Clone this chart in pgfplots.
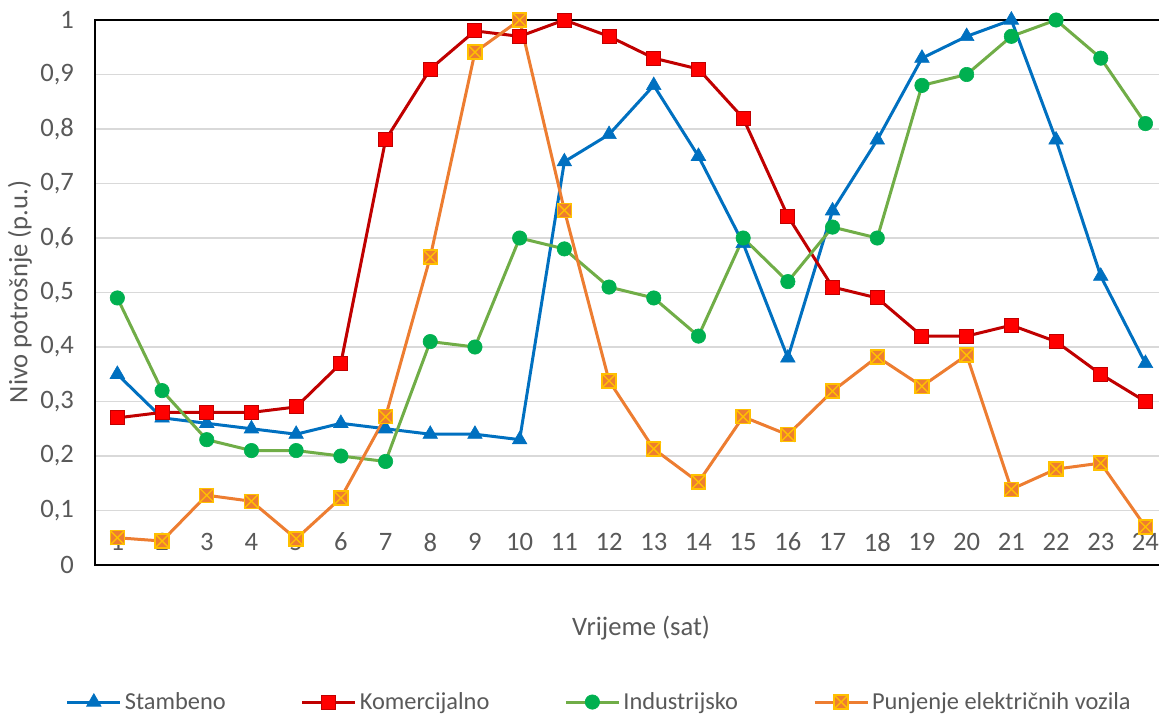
\documentclass[border=0pt]{standalone}
\usepackage{fontspec}
\setmainfont{Carlito}
\usepackage{pgfplots}
\pgfplotsset{compat=1.18}

\definecolor{cblue}{HTML}{0070C0}
\definecolor{credl}{HTML}{C00000}
\definecolor{credf}{HTML}{FF0000}
\definecolor{cgreenl}{HTML}{70AD47}
\definecolor{cgreenm}{HTML}{00B050}
\definecolor{corange}{HTML}{ED7D31}
\definecolor{cgold}{HTML}{FFC000}
\definecolor{txt}{HTML}{595959}
\definecolor{gridc}{HTML}{D9D9D9}

% filled square with a cross (EV charging marker)
\pgfdeclareplotmark{sqx}{%
  \pgfpathrectangle{\pgfpoint{-\pgfplotmarksize}{-\pgfplotmarksize}}{\pgfpoint{2\pgfplotmarksize}{2\pgfplotmarksize}}%
  \pgfusepathqfillstroke
  \pgfpathmoveto{\pgfpoint{-\pgfplotmarksize}{-\pgfplotmarksize}}%
  \pgfpathlineto{\pgfpoint{\pgfplotmarksize}{\pgfplotmarksize}}%
  \pgfpathmoveto{\pgfpoint{-\pgfplotmarksize}{\pgfplotmarksize}}%
  \pgfpathlineto{\pgfpoint{\pgfplotmarksize}{-\pgfplotmarksize}}%
  \pgfusepathqstroke}

\newcommand{\cf}{\fontsize{13.3}{16}\selectfont}
\newcommand{\lf}{\fontsize{12.2}{14.6}\selectfont}

\begin{document}
\begin{tikzpicture}
\useasboundingbox (-47.5pt,-74.5pt) rectangle (532pt,282.5pt);
\begin{axis}[
    at={(0,0)}, anchor=south west,
    scale only axis,
    width=536.4pt, height=272.5pt,
    xmin=0.5, xmax=24.5,
    ymin=0, ymax=1,
    xtick={1,...,24},
    ytick={0,0.1,...,1.0001},
    major tick length=0pt,
    axis line style={black, line width=0.9pt},
    ymajorgrids,
    major grid style={gridc, line width=0.8pt},
    tick label style={font=\cf, text=txt},
    /pgf/number format/assume math mode=true,
    yticklabel style={/pgf/number format/fixed, /pgf/number format/use comma, xshift=-7pt},
    xticklabel style={anchor=center, yshift=11.5pt},
    xlabel={Vrijeme (sat)},
    ylabel={Nivo potrošnje (p.u.)},
    label style={font=\cf, text=txt},
    xlabel style={at={(axis description cs:0.509,-0.1156)}, anchor=center},
    ylabel style={at={(axis description cs:-0.0699,0.501)}, anchor=center, rotate=0},
    legend columns=4,
    legend style={draw=none, fill=none, font=\lf, text=txt,
        at={(axis description cs:0.4705,-0.2514)}, anchor=center,
        /tikz/every even column/.append style={column sep=36pt},
        nodes={inner sep=1.5pt}},
    legend image code/.code={%
        \draw[mark repeat=2,mark phase=2]
        plot coordinates {(0pt,0pt) (13.25pt,0pt) (26.5pt,0pt)};},
    every axis plot/.append style={line width=1.5pt},
]
\addplot[cblue, mark=triangle*, mark size=4.2pt, mark options={solid, line width=0.3pt, fill=cblue, draw=cblue}]
coordinates {(1,0.35) (2,0.27) (3,0.26) (4,0.25) (5,0.24) (6,0.26) (7,0.25) (8,0.24)
(9,0.24) (10,0.23) (11,0.74) (12,0.79) (13,0.88) (14,0.75) (15,0.59) (16,0.38)
(17,0.65) (18,0.78) (19,0.93) (20,0.97) (21,1.0) (22,0.78) (23,0.53) (24,0.37)};
\addlegendentry{Stambeno}

\addplot[credl, mark=square*, mark size=3.5pt, mark options={solid, line width=0.5pt, fill=credf, draw=credl}]
coordinates {(1,0.27) (2,0.28) (3,0.28) (4,0.28) (5,0.29) (6,0.37) (7,0.78) (8,0.91)
(9,0.98) (10,0.97) (11,1.0) (12,0.97) (13,0.93) (14,0.91) (15,0.82) (16,0.64)
(17,0.51) (18,0.49) (19,0.42) (20,0.42) (21,0.44) (22,0.41) (23,0.35) (24,0.30)};
\addlegendentry{Komercijalno}

\addplot[cgreenl, mark=*, mark size=3.6pt, mark options={solid, line width=0.3pt, fill=cgreenm, draw=cgreenm}]
coordinates {(1,0.49) (2,0.32) (3,0.23) (4,0.21) (5,0.21) (6,0.20) (7,0.19) (8,0.41)
(9,0.40) (10,0.60) (11,0.58) (12,0.51) (13,0.49) (14,0.42) (15,0.60) (16,0.52)
(17,0.62) (18,0.60) (19,0.88) (20,0.90) (21,0.97) (22,1.0) (23,0.93) (24,0.81)};
\addlegendentry{Industrijsko}

\addplot[corange, mark=sqx, mark size=3.5pt, mark options={solid, line width=0.7pt, fill=corange, draw=cgold}]
coordinates {(1,0.050) (2,0.044) (3,0.128) (4,0.117) (5,0.048) (6,0.123) (7,0.272) (8,0.565)
(9,0.941) (10,1.0) (11,0.651) (12,0.338) (13,0.213) (14,0.152) (15,0.272) (16,0.239)
(17,0.319) (18,0.382) (19,0.328) (20,0.385) (21,0.139) (22,0.176) (23,0.187) (24,0.070)};
\addlegendentry{Punjenje električnih vozila}
\end{axis}
\end{tikzpicture}
\end{document}
